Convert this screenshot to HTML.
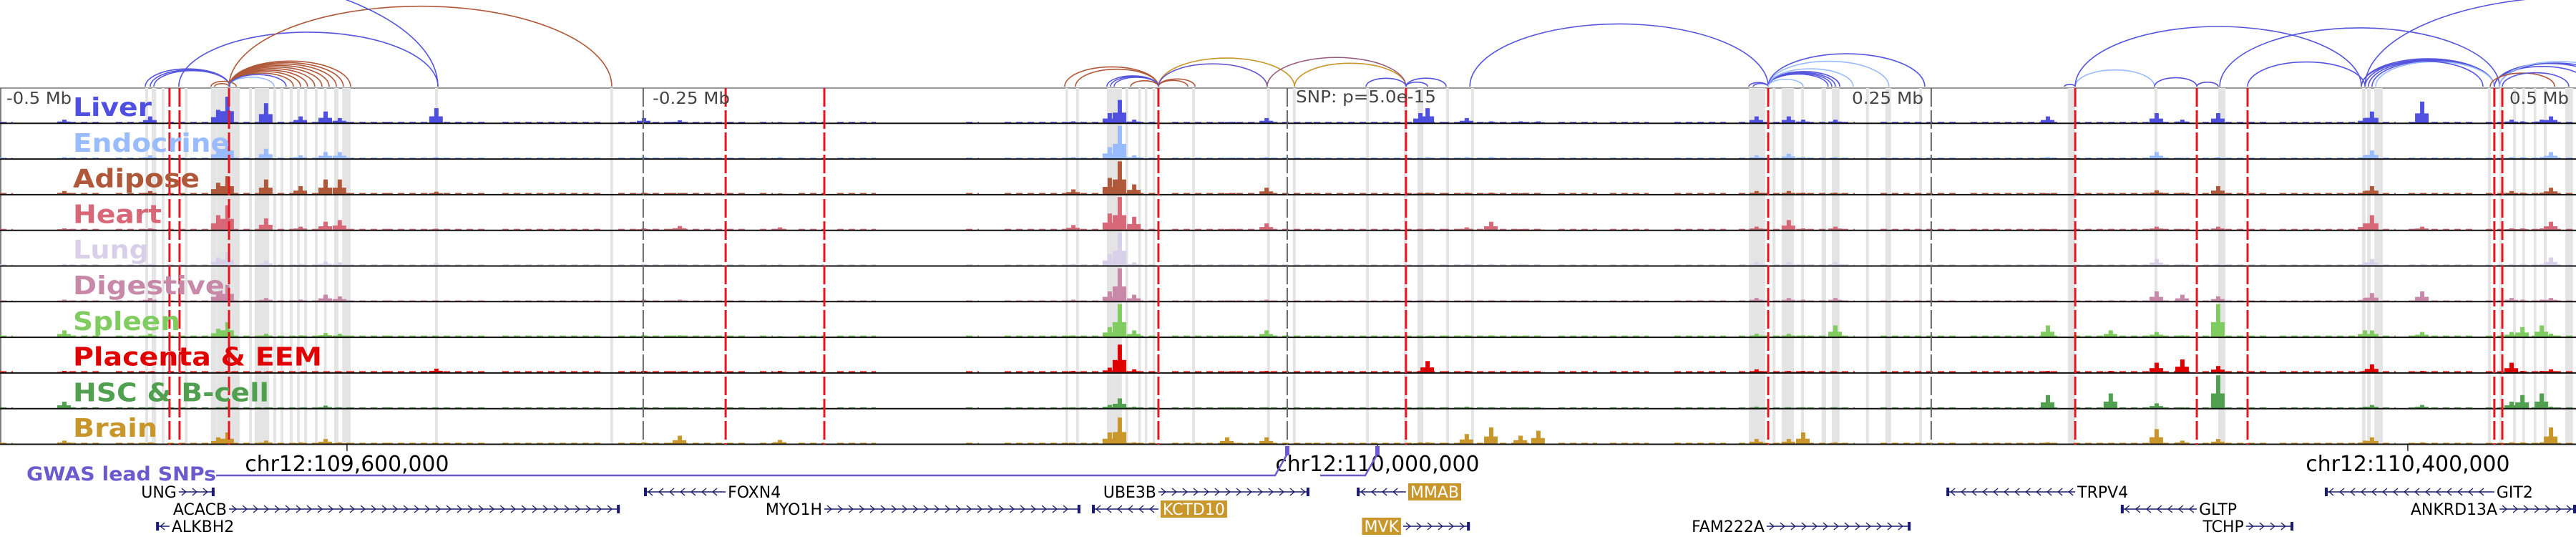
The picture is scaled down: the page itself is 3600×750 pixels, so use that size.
<!DOCTYPE html>
<html><head><meta charset="utf-8">
<style>
html,body{margin:0;padding:0;background:#fff;}
svg{display:block;}
text{font-family:"DejaVu Sans","Liberation Sans",sans-serif;}
</style></head>
<body>
<svg id="chart" width="3600" height="750" viewBox="0 0 3600 750" xmlns="http://www.w3.org/2000/svg">
<g id="arcs"></g>
<g id="cols"></g>
<g id="tracks"></g>
<g id="vlines"></g>
<g id="labels"></g>
<g id="axis"></g>
<g id="genes"></g>
</svg>
<script>
// ---- data (positions in kb from window start; window = 1000 kb) ----
const trackNames = ["Liver","Endocrine","Adipose","Heart","Lung","Digestive","Spleen","Placenta & EEM","HSC & B-cell","Brain"];
const trackColors = ["#5050e0","#99bbff","#b0583a","#d86878","#d8d0e8","#c888a8","#80cc60","#e00000","#50a050","#c8962a"];
const labelWidths = [110,219,177,124,106,212,150,348,274,118];
const redLines = [65.8,69.7,88.9,281.7,320,449.7,545.8,686.4,805.6,852.8,872.5,968.3,971.4];
const grayDashes = [249.7,499.7,749.7];
const colStarts = [56.4,58.9,62.8,71.7,81.9,84.2,96.7,98.9,106.1,108.9,112.5,115.3,118.1,122.2,125.8,129.7,132.8,168.9,236.9,413.6,417.8,429.7,436.9,441.9,444.4,447.5,462.8,491.9,501.9,530.3,545,550.3,561.4,571.1,678.9,688.1,691.7,699.2,707.2,711.1,724.4,731.9,745,802.8,836.4,861.1,916.9,918.9,921.7,965.8,970.3,975.6,979.2,983.6,987.5,995.8];
const colWidths = [1.1,1.7,1,1.1,2.2,8.9,1.1,5.6,1.1,1.1,1.1,1.1,1.1,1.1,1,1.7,3.3,1.1,1.1,1,1,5.8,1,1,1,1,1.1,1.1,1.1,1.1,1.1,2.2,1.1,1.1,6.4,1.1,4.7,1.1,1.7,3,1.1,2.2,1.1,2.8,1.1,2.8,1.4,1.4,3.3,1.1,1,1.1,1,1,1.1,3];
const peakPos = [84.7,88.3,103.3,116.7,126.4,131.9,169.4,25,58.3,250,263.9,302.8,430.8,434.7,440.3,416.7,476.4,491.7,551.4,554.2,569.4,578.9,590.3,597.2,681.9,694.4,700,712.5,795,819.4,837.2,847.2,861.1,918.1,920.8,940.3,975,979.2,986.7,990.3];
const peakHeights = [
[.4,.3,.35,.45,.25,.3,.25,.03,.03,.2],
[.8,.55,.55,.75,.4,.5,.45,.05,.05,.35],
[.6,.3,.45,.35,.15,.1,.1,.03,.03,.1],
[.2,.1,.25,.1,.05,.05,.05,.02,.02,.05],
[.35,.2,.45,.25,.12,.2,.12,.03,.08,.15],
[.15,.2,.45,.3,.1,.15,.1,.03,.03,.05],
[.45,.05,.08,.04,.08,.02,.02,.12,.02,.02],
[.1,.05,.1,.05,.05,.05,.2,.05,.2,.1],
[.2,.1,.1,.05,.05,.1,.1,.03,.03,.05],
[.15,.05,.05,.05,.05,.05,.05,.05,.03,.05],
[.08,.05,.04,.12,.05,.05,.05,.03,.03,.25],
[.03,.05,.03,.08,.05,.03,.03,.05,.03,.12],
[.3,.35,.5,.5,.35,.3,.3,.15,.1,.35],
[.7,1,1,1,1,1,1,.85,.3,.8],
[.1,.1,.3,.4,.1,.2,.2,.1,.05,.05],
[.05,.05,.15,.15,.05,.05,.05,.05,.03,.03],
[.03,.03,.03,.03,.03,.03,.03,.03,.03,.2],
[.15,.05,.2,.2,.05,.05,.2,.05,.03,.2],
[.3,.03,.05,.03,.03,.03,.03,.05,.03,.05],
[.45,.05,.05,.03,.03,.03,.03,.35,.03,.05],
[.15,.05,.05,.08,.05,.03,.05,.05,.05,.3],
[.05,.05,.05,.25,.05,.03,.05,.03,.03,.5],
[.05,.03,.03,.03,.05,.03,.03,.03,.03,.25],
[.05,.03,.03,.03,.03,.03,.03,.03,.03,.4],
[.2,.1,.1,.1,.1,.1,.1,.1,.05,.15],
[.2,.15,.1,.3,.1,.1,.1,.05,.03,.15],
[.1,.05,.05,.05,.05,.05,.05,.05,.03,.35],
[.1,.05,.05,.1,.1,.1,.35,.03,.03,.05],
[.2,.05,.03,.03,.03,.03,.35,.05,.4,.05],
[.03,.03,.03,.03,.03,.03,.2,.05,.45,.03],
[.3,.2,.12,.1,.2,.3,.15,.3,.15,.45],
[.1,.03,.05,.03,.05,.2,.05,.4,.03,.1],
[.3,.05,.25,.1,.05,.15,1,.2,1,.15],
[.15,.1,.1,.2,.1,.1,.2,.05,.05,.1],
[.35,.25,.25,.45,.2,.25,.2,.25,.1,.2],
[.65,.03,.03,.1,.05,.3,.15,.05,.1,.05],
[.1,.05,.1,.05,.05,.1,.15,.3,.2,.05],
[.05,.05,.05,.05,.05,.05,.3,.05,.4,.05],
[.1,.05,.05,.05,.05,.05,.35,.05,.45,.05],
[.2,.2,.2,.25,.25,.1,.1,.1,.05,.5]];
const bgStarts = [0,27,45,65,90,135,150,195,240,260,295,310,325,375,390,415,437,455,480,510,560,605,625,650,675,730,765,805,835,855,885,935,965];
const bgEnds = [5,40,60,82,135,150,190,235,260,290,300,320,340,380,415,430,450,480,510,560,600,620,640,670,720,760,800,835,850,880,930,960,1000];
const bgLevels = [.05,.05,.06,.05,.06,.04,.06,.06,.04,.05];
const arcStarts = [56.4,58.3,59.7,69.4,88.9,-46.7,88.9,88.9,88.9,88.9,88.9,88.9,88.9,88.9,88.9,81.9,83.3,88.9,88.9,413.3,417.5,429.7,431.1,432.5,438.9,449.7,449.7,449.7,449.7,502.5,491.9,530.3,545.8,545.8,570.6,678.9,680.6,686.4,686.4,686.4,686.4,686.4,686.4,686.4,686.4,801.4,805.6,805.6,836.4,852.8,852.8,861.7,872.5,916.7,918.1,919.4,920.8,922.2,916.7,918.1,968.3,970.3,968.3,970.3,966.7,971.4];
const arcEnds = [89.2,89.2,89.2,170,237.5,170,113.9,116.7,119.4,122.2,125,127.8,130.6,133.3,136.1,91.7,88.9,106.4,111.1,449.7,449.7,449.7,449.7,449.7,449.7,463.9,461.1,502.5,491.9,545.8,545.8,545.8,561.4,554.2,686.4,686.4,686.4,714.2,712.5,711.1,709.7,719.4,733.3,747.2,700,805.6,836.4,916.7,852.8,861.1,861.1,970.3,918.1,968.3,968.3,968.3,968.3,968.3,963.9,1084.7,1011.1,1013.9,1005.6,1016.7,991.7,997.2];
const arcColors = ["b","b","b","b","r","b","r","r","r","r","r","r","r","r","r","r","r","l","b","r","r","b","b","b","r","r","r","g","p","g","m","b","b","b","b","b","b","b","b","b","b","l","l","b","l","b","l","b","b","r","b","b","b","b","b","b","b","l","b","b","b","b","b","l","r","b"];
const geneNames = ["UNG","FOXN4","UBE3B","MMAB","TRPV4","GIT2","ACACB","MYO1H","KCTD10","GLTP","ANKRD13A","ALKBH2","MVK","FAM222A","TCHP"];
const geneStarts = [69.4,250,449.7,526.7,755.6,902.5,88.9,320,423.9,823.3,970.3,60.6,544.7,685.8,871.9];
const geneEnds = [83.3,281.7,508.3,545.8,805.6,968.3,240.6,419.4,449.7,852.8,1000,65.8,570.6,741.7,890.3];
const geneRows = [0,0,0,0,0,0,1,1,1,1,1,2,2,2,2];
const geneStrand = [1,-1,1,-1,-1,-1,1,1,-1,-1,1,-1,1,1,1];
const geneLabelSide = ["L","R","L","R","R","R","L","L","R","R","L","R","L","L","L"];
const geneHighlight = [0,0,0,1,0,0,0,0,1,0,0,0,1,0,0];
const axisTicksKb = [134.7,534.7,934.7];
const axisTickLabels = ["chr12:109,600,000","chr12:110,000,000","chr12:110,400,000"];
const snpPos = [499.7,534.7];

// ---- scales ----
const PXKB = 3.6;
const X = kb => kb * PXKB;
const TOP = 123, TH = 49.8, MAXH = 46;
const NS = "http://www.w3.org/2000/svg";
function mk(tag, attrs, parent){const e=document.createElementNS(NS,tag);for(const k in attrs)e.setAttribute(k,attrs[k]);parent.appendChild(e);return e;}
const arcCol = {b:"#5555dd",l:"#99bbff",r:"#b0583a",g:"#c8962a",p:"#6655cc",m:"#9a5a7a"};

// arcs
const gA = document.getElementById('arcs');
const BASE = 121;
arcStarts.forEach((s,i)=>{
  const x1=X(s), x2=X(arcEnds[i]); const a=(x2-x1)/2; const h=0.42*a;
  const p=mk('path',{d:`M${x1},${BASE} A${a},${h} 0 0 1 ${x2},${BASE}`,fill:'none',stroke:arcCol[arcColors[i]],'stroke-width':1.6},gA);
  
  
});
mk('line',{x1:0,y1:TOP,x2:3600,y2:TOP,stroke:'#777','stroke-width':1.5},gA);
mk('line',{x1:1,y1:TOP,x2:1,y2:TOP+TH*10,stroke:'#555','stroke-width':1.5},gA);

// columns
const gC = document.getElementById('cols');
colStarts.forEach((s,i)=>{
  const r=mk('rect',{x:X(s),y:TOP,width:Math.max(X(colWidths[i]),3),height:TH*10,fill:'#e4e4e4'},gC);
  
  
});

// tracks
const gT = document.getElementById('tracks');
trackNames.forEach((nm,t)=>{
  const bottom = TOP + TH*(t+1) - 1;
  const g = mk('g',{},gT);
  
  
  bgStarts.forEach((s,i)=>{
    const hh = bgLevels[t]*MAXH*0.7;
    mk('line',{x1:X(s),y1:bottom-hh/2,x2:X(bgEnds[i]),y2:bottom-hh/2,stroke:trackColors[t],'stroke-width':hh,'stroke-dasharray':'9 7'},g);
  });
  peakPos.forEach((p,i)=>{
    const hh = peakHeights[i][t]*MAXH;
    const b=mk('rect',{x:X(p)-3,y:bottom-hh,width:6,height:hh,fill:trackColors[t]},g);
    
    
    const hh2=hh*0.45;
    mk('rect',{x:X(p)-10,y:bottom-hh2,width:19,height:hh2,fill:trackColors[t]},g);
  });
  mk('line',{x1:0,y1:bottom+0.5,x2:3600,y2:bottom+0.5,stroke:'#111','stroke-width':2},g);
});

// vertical marker lines
const gV = document.getElementById('vlines');
grayDashes.forEach(k=>{
  const l=mk('line',{x1:X(k),y1:TOP,x2:X(k),y2:TOP+TH*10,stroke:'#666','stroke-width':2,'stroke-dasharray':'26 5'},gV);
  
  
});
redLines.forEach(k=>{
  const l=mk('line',{x1:X(k),y1:TOP,x2:X(k),y2:TOP+TH*10,stroke:'#e8141e','stroke-width':3,'stroke-dasharray':'26 5'},gV);
  
  
});

// labels
const gL = document.getElementById('labels');
function txt(str,attrs,parent,name){const e=mk('text',attrs,parent);e.textContent=str;return e;}
trackNames.forEach((nm,t)=>{
  txt(nm,{x:102,y:TOP+TH*t+39,'font-size':36,'font-weight':'bold',fill:trackColors[t],textLength:labelWidths[t],lengthAdjust:'spacingAndGlyphs'},gL,'track-label');
});
txt('-0.5 Mb',{x:9,y:145,'font-size':23,fill:'#444',textLength:91,lengthAdjust:'spacingAndGlyphs'},gL,'distance-label');
txt('-0.25 Mb',{x:912,y:145,'font-size':23,fill:'#444',textLength:108,lengthAdjust:'spacingAndGlyphs'},gL,'distance-label');
txt('SNP: p=5.0e-15',{x:1811,y:143,'font-size':23,fill:'#444',textLength:196,lengthAdjust:'spacingAndGlyphs'},gL,'snp-label');
txt('0.25 Mb',{x:2588,y:145,'font-size':23,fill:'#444',textLength:100,lengthAdjust:'spacingAndGlyphs'},gL,'distance-label');
txt('0.5 Mb',{x:3507,y:145,'font-size':23,fill:'#444',textLength:83,lengthAdjust:'spacingAndGlyphs'},gL,'distance-label');

// axis
const gX = document.getElementById('axis');
const AY = TOP+TH*10;
axisTicksKb.forEach((k,i)=>{
  mk('line',{x1:X(k),y1:AY,x2:X(k),y2:AY+9,stroke:'#222','stroke-width':1.5},gX);
  txt(axisTickLabels[i],{x:X(k),y:658,'font-size':30,fill:'#000','text-anchor':'middle',textLength:285,lengthAdjust:'spacingAndGlyphs'},gX,'axis-tick-label');
});
txt('GWAS lead SNPs',{x:37,y:671,'font-size':27,'font-weight':'bold',fill:'#6a5acd',textLength:265,lengthAdjust:'spacingAndGlyphs'},gX,'gwas-track-label');
mk('polyline',{points:`302,664 ${X(snpPos[0])-17},664 ${X(snpPos[0])},634`,fill:'none',stroke:'#6a5acd','stroke-width':2.5},gX);
mk('polyline',{points:`${X(snpPos[1])-80},664 ${X(snpPos[1])-17},664 ${X(snpPos[1])},634`,fill:'none',stroke:'#6a5acd','stroke-width':2.5},gX);
snpPos.forEach(k=>{
  const r=mk('rect',{x:X(k)-3,y:623,width:6,height:13,fill:'#6a5acd'},gX);
  
  
});

// genes
const gG = document.getElementById('genes');
const rowY=[687,711,735];
geneNames.forEach((nm,i)=>{
  const y=rowY[geneRows[i]]; const x1=X(geneStarts[i]), x2=X(geneEnds[i]);
  const g=mk('g',{},gG);
  
  
  mk('line',{x1:x1,y1:y,x2:x2,y2:y,stroke:'#1a1a6e','stroke-width':1.5},g);
  let d='';
  for(let x=x1+8;x<x2-6;x+=15){
    d+= geneStrand[i]>0 ? `M${x-4},${y-5} L${x+2},${y} L${x-4},${y+5} ` : `M${x+4},${y-5} L${x-2},${y} L${x+4},${y+5} `;
  }
  mk('path',{d:d,fill:'none',stroke:'#1a1a6e','stroke-width':1.3},g);
  const endX = geneStrand[i]>0 ? x2-4 : x1;
  mk('rect',{x:endX,y:y-6,width:4,height:12,fill:'#1a1a6e'},g);
  const side=geneLabelSide[i];
  const lx = side==='L'? x1-3 : x2+3;
  const anchor = side==='L'?'end':'start';
  if(geneHighlight[i]){
    const bg=mk('rect',{x:0,y:y-12,width:10,height:24,fill:'#c8962a'},g);
    const t=txt(nm,{x: side==='L'? lx-3 : lx+3,y:y+8,'font-size':22,fill:'#fff','text-anchor':anchor},g,'gene-label');
    const w=t.getComputedTextLength()+6;
    bg.setAttribute('width',w);
    bg.setAttribute('x', side==='L'? lx-w : lx);
  } else {
    txt(nm,{x:lx,y:y+8,'font-size':22,fill:'#000','text-anchor':anchor},g,'gene-label');
  }
});
</script>
</body></html>
